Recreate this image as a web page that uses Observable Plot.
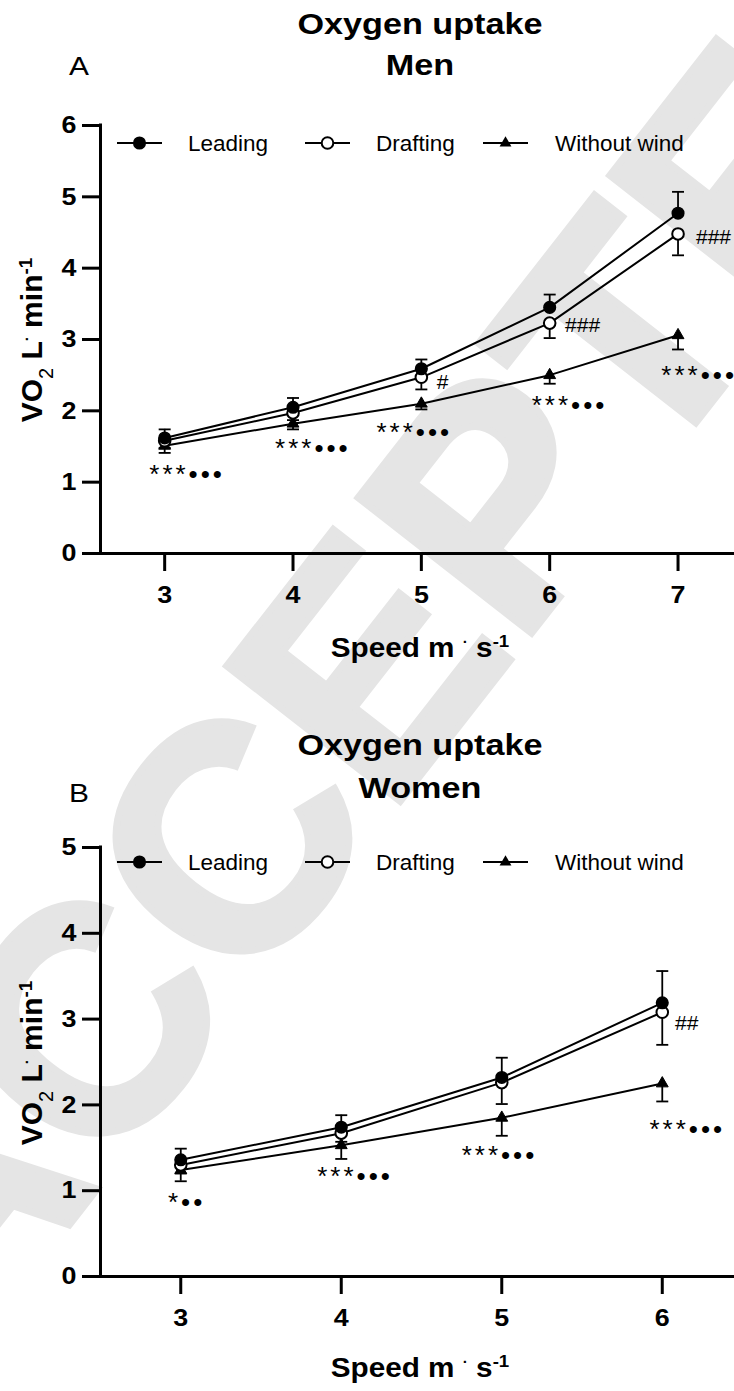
<!DOCTYPE html>
<html><head><meta charset="utf-8">
<script src="https://cdn.jsdelivr.net/npm/d3@7"></script>
<script src="https://cdn.jsdelivr.net/npm/@observablehq/plot@0.6"></script>
<style>
body{margin:0;background:#fff;}
#chart{width:734px;height:1391px;overflow:hidden;}
#chart svg{display:block;}
</style>
</head><body><div id="chart"></div>
<script>
const FONT = "'Liberation Sans', Arial, Helvetica, sans-serif";

// ---------- Panel A : Men ----------
const menSpeed = [3, 4, 5, 6, 7];
const menLeading = [1.62, 2.05, 2.59, 3.45, 4.77];
const menLeadingSD = [0.12, 0.13, 0.13, 0.18, 0.30];
const menDrafting = [1.58, 1.97, 2.47, 3.23, 4.48];
const menDraftingSD = [0.10, 0.10, 0.17, 0.21, 0.30];
const menWind = [1.51, 1.82, 2.10, 2.50, 3.06];
const menWindSD = [0.10, 0.08, 0.08, 0.12, 0.20];
const menStatSpeed = [2.88, 3.86, 4.65, 5.86, 6.87];
const menStatVO2 = [1.10, 1.47, 1.69, 2.07, 2.49];
const menStatText = ["***•••", "***•••", "***•••", "***•••", "***•••"];
const menHashSpeed = [5.12, 6.12, 7.14];
const menHashVO2 = [2.40, 3.20, 4.44];
const menHashText = ["#", "###", "###"];
const menXTicks = [3, 4, 5, 6, 7];
const menYTicks = [0, 1, 2, 3, 4, 5, 6];

// ---------- Panel B : Women ----------
const womenSpeed = [3, 4, 5, 6];
const womenLeading = [1.36, 1.74, 2.32, 3.19];
const womenLeadingSD = [0.13, 0.14, 0.23, 0.37];
const womenDrafting = [1.30, 1.67, 2.26, 3.08];
const womenDraftingSD = [0.10, 0.10, 0.25, 0.38];
const womenWind = [1.24, 1.53, 1.85, 2.25];
const womenWindSD = [0.13, 0.16, 0.21, 0.21];
const womenStatSpeed = [2.92, 3.85, 4.75, 5.92];
const womenStatVO2 = [0.86, 1.16, 1.41, 1.71];
const womenStatText = ["*••", "***•••", "***•••", "***•••"];
const womenHashSpeed = [6.08];
const womenHashVO2 = [2.95];
const womenHashText = ["##"];
const womenXTicks = [3, 4, 5, 6];
const womenYTicks = [0, 1, 2, 3, 4, 5];

const seriesNames = ["Leading", "Drafting", "Without wind"];
const titleLine1 = "Oxygen uptake";
const watermarkText = "ACCEPTED";

function stretch(el, s) {
  const t = el.getAttribute("transform") || "";
  el.setAttribute("transform", t + ` scale(${s},1)`);
}

function buildPanel(cfg) {
  const rows = (vals, sd) => cfg.speed.map((s, i) => ({speed: s, vo2: vals[i], sd: sd[i]}));
  const lead = rows(cfg.leading, cfg.leadingSD);
  const draft = rows(cfg.drafting, cfg.draftingSD);
  const wind = rows(cfg.wind, cfg.windSD);
  const stats = cfg.statSpeed.map((s, i) => ({speed: s, vo2: cfg.statVO2[i], label: cfg.statText[i]}));
  const hashes = cfg.hashSpeed.map((s, i) => ({speed: s, vo2: cfg.hashVO2[i], label: cfg.hashText[i]}));
  const cap = {draw(ctx) { ctx.moveTo(-6, 0); ctx.lineTo(6, 0); }};
  const errBar = (data, dir) => [
    Plot.ruleX(data, {x: "speed", y1: "vo2", y2: d => d.vo2 + dir * d.sd, stroke: "black", strokeWidth: 1.8}),
    Plot.dot(data, {x: "speed", y: d => d.vo2 + dir * d.sd, symbol: cap, stroke: "black", strokeWidth: 1.8, fill: "none"})
  ];
  const svgEl = Plot.plot({
    width: 734, height: cfg.height,
    marginLeft: 100, marginRight: 0, marginTop: cfg.marginTop, marginBottom: cfg.marginBottom,
    x: {domain: cfg.xDomain},
    y: {domain: cfg.yDomain},
    style: {fontFamily: FONT, background: "white", color: "black"},
    marks: [
      Plot.axisY({ticks: cfg.yTicks, tickSize: 18, tickPadding: 6, strokeWidth: 3, fontSize: 24, fontWeight: "bold", label: null, tickFormat: d => String(d)}),
      Plot.axisX({ticks: cfg.xTicks, tickSize: 18, tickPadding: 14, strokeWidth: 3, fontSize: 24, fontWeight: "bold", label: null, tickFormat: d => String(d)}),
      Plot.ruleX([cfg.xDomain[0]], {stroke: "black", strokeWidth: 3, strokeLinecap: "square"}),
      Plot.ruleY([0], {stroke: "black", strokeWidth: 3}),
      Plot.line(wind, {x: "speed", y: "vo2", stroke: "black", strokeWidth: 2}),
      Plot.line(draft, {x: "speed", y: "vo2", stroke: "black", strokeWidth: 2}),
      Plot.line(lead, {x: "speed", y: "vo2", stroke: "black", strokeWidth: 2}),
      ...errBar(wind, -1),
      ...errBar(draft, -1),
      ...errBar(lead, 1),
      Plot.dot(wind, {x: "speed", y: "vo2", symbol: "triangle", fill: "black", stroke: "black", strokeWidth: 1, r: 4.4}),
      Plot.dot(draft, {x: "speed", y: "vo2", fill: "white", stroke: "black", strokeWidth: 2, r: 5.8}),
      Plot.dot(lead, {x: "speed", y: "vo2", fill: "black", stroke: "black", strokeWidth: 1.5, r: 5.8}),
      Plot.text(stats, {x: "speed", y: "vo2", text: "label", textAnchor: "start", lineAnchor: "middle", fontSize: 26, fill: "black"}),
      Plot.text(hashes, {x: "speed", y: "vo2", text: "label", textAnchor: "start", lineAnchor: "middle", fontSize: 21, fill: "black"})
    ]
  });
  const svg = d3.select(svgEl);
  svg.selectAll("text").filter(function() { return /[•]/.test(this.textContent); }).attr("letter-spacing", 3);
  svg.selectAll('g[aria-label="y-axis tick label"] text, g[aria-label="x-axis tick label"] text').each(function() { stretch(this, 1.12); });

  // watermark (behind everything)
  svg.insert("text", ":first-child")
    .attr("transform", `translate(502,${671 - cfg.offset}) rotate(-52)`)
    .attr("text-anchor", "middle").attr("font-family", FONT)
    .attr("font-weight", "bold").attr("font-size", 320)
    .attr("fill", "#e5e5e5").attr("stroke", "#e5e5e5").attr("stroke-width", 7).attr("stroke-linejoin", "miter")
    .text(watermarkText);

  const addT = (x, y, txt, size, weight, anchor, s) => {
    const t = svg.append("text").attr("transform", `translate(${x},${y})`)
      .attr("text-anchor", anchor).attr("font-family", FONT)
      .attr("font-size", size).attr("font-weight", weight).attr("fill", "black").text(txt);
    if (s) stretch(t.node(), s);
    return t;
  };
  addT(420, cfg.titleY, titleLine1, 30, "bold", "middle", 1.14);
  addT(420, cfg.title2Y, cfg.title2, 30, "bold", "middle", 1.14);
  addT(69, cfg.letterY, cfg.letter, 26, "normal", "start", 1.15);

  // legend
  const lg = svg.append("g").attr("transform", `translate(0,${cfg.legendY})`);
  const items = [
    {x0: 117, x1: 162, tx: 188, name: seriesNames[0], kind: "filled"},
    {x0: 305, x1: 350, tx: 376, name: seriesNames[1], kind: "open"},
    {x0: 483, x1: 528, tx: 555, name: seriesNames[2], kind: "tri"}
  ];
  for (const it of items) {
    lg.append("line").attr("x1", it.x0).attr("x2", it.x1).attr("y1", 0).attr("y2", 0).attr("stroke", "black").attr("stroke-width", 2);
    const cx = (it.x0 + it.x1) / 2;
    if (it.kind === "tri") {
      lg.append("path").attr("d", d3.symbol(d3.symbolTriangle, Math.PI * 4.4 * 4.4)()).attr("transform", `translate(${cx},0)`).attr("fill", "black");
    } else {
      lg.append("circle").attr("cx", cx).attr("cy", 0).attr("r", 5.8)
        .attr("fill", it.kind === "filled" ? "black" : "white").attr("stroke", "black").attr("stroke-width", it.kind === "filled" ? 1.5 : 2);
    }
    lg.append("text").attr("x", it.tx).attr("y", 8).attr("text-anchor", "start").attr("font-family", FONT)
      .attr("font-size", 22.5).attr("fill", "black").text(it.name);
  }

  // x axis label
  const xl = svg.append("text").attr("transform", `translate(420,${cfg.xLabelY})`).attr("text-anchor", "middle")
    .attr("font-family", FONT).attr("font-size", 27).attr("font-weight", "bold").attr("fill", "black");
  xl.append("tspan").text("Speed m ");
  xl.append("tspan").attr("font-size", 14).attr("baseline-shift", "10").text("·");
  xl.append("tspan").text(" s");
  xl.append("tspan").attr("font-size", 17).attr("baseline-shift", "super").text("-1");
  stretch(xl.node(), 1.1);

  // y axis label
  const yl = svg.append("text").attr("transform", `translate(42,${cfg.yLabelY}) rotate(-90)`).attr("text-anchor", "middle")
    .attr("font-family", FONT).attr("font-size", 30).attr("font-weight", "bold").attr("fill", "black");
  yl.append("tspan").text("VO");
  yl.append("tspan").attr("font-size", 20).attr("font-weight", "normal").attr("baseline-shift", "sub").text("2");
  yl.append("tspan").text(" L");
  yl.append("tspan").attr("font-size", 15).attr("baseline-shift", "10").text("·");
  yl.append("tspan").text(" min");
  yl.append("tspan").attr("font-size", 19).attr("baseline-shift", "super").text("-1");

  return svgEl;
}

const chart = document.getElementById("chart");
chart.appendChild(buildPanel({
  speed: menSpeed, leading: menLeading, leadingSD: menLeadingSD,
  drafting: menDrafting, draftingSD: menDraftingSD, wind: menWind, windSD: menWindSD,
  statSpeed: menStatSpeed, statVO2: menStatVO2, statText: menStatText,
  hashSpeed: menHashSpeed, hashVO2: menHashVO2, hashText: menHashText,
  xTicks: menXTicks, yTicks: menYTicks, xDomain: [2.5, 7.44], yDomain: [0, 6],
  height: 700, marginTop: 125, marginBottom: 147, offset: 0,
  title2: "Men", letter: "A", titleY: 34, title2Y: 75, letterY: 75,
  legendY: 143, xLabelY: 657, yLabelY: 340
}));
chart.appendChild(buildPanel({
  speed: womenSpeed, leading: womenLeading, leadingSD: womenLeadingSD,
  drafting: womenDrafting, draftingSD: womenDraftingSD, wind: womenWind, windSD: womenWindSD,
  statSpeed: womenStatSpeed, statVO2: womenStatVO2, statText: womenStatText,
  hashSpeed: womenHashSpeed, hashVO2: womenHashVO2, hashText: womenHashText,
  xTicks: womenXTicks, yTicks: womenYTicks, xDomain: [2.5, 6.45], yDomain: [0, 5],
  height: 691, marginTop: 147, marginBottom: 115, offset: 700,
  title2: "Women", letter: "B", titleY: 55, title2Y: 98, letterY: 102,
  legendY: 162, xLabelY: 677, yLabelY: 363
}));
</script>
</body></html>
